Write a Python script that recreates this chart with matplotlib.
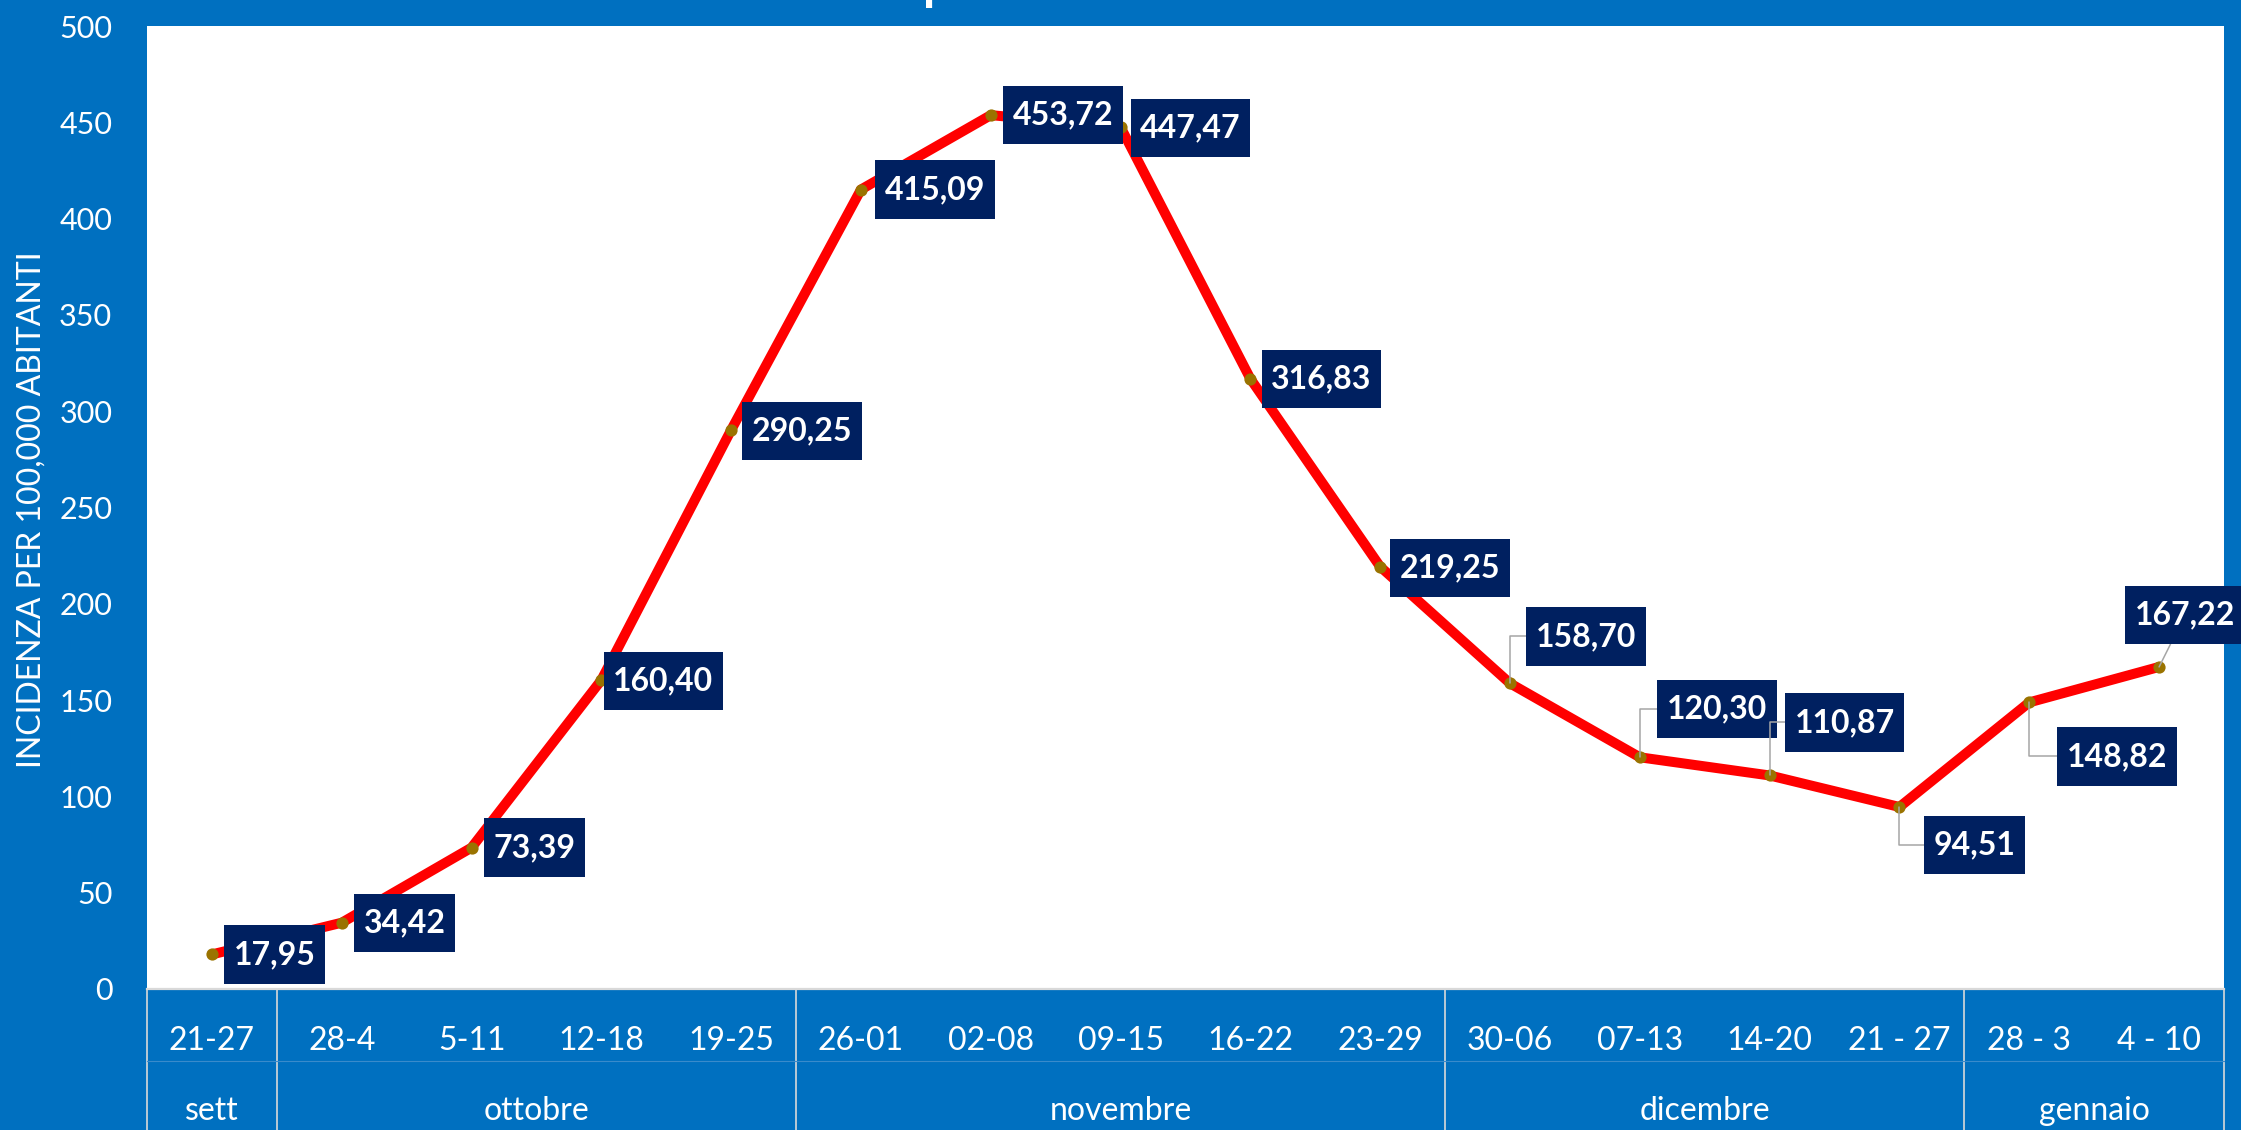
import matplotlib
matplotlib.use("Agg")
import matplotlib.pyplot as plt
import matplotlib.transforms as mtransforms
from matplotlib.path import Path

# ---- data ----
weeks = ["21-27", "28-4", "5-11", "12-18", "19-25", "26-01", "02-08", "09-15",
         "16-22", "23-29", "30-06", "07-13", "14-20", "21 - 27", "28 - 3", "4 - 10"]
values = [17.95, 34.42, 73.39, 160.40, 290.25, 415.09, 453.72, 447.47,
          316.83, 219.25, 158.70, 120.30, 110.87, 94.51, 148.82, 167.22]
months = ["sett", "ottobre", "novembre", "dicembre", "gennaio"]
month_sizes = [1, 4, 5, 4, 2]
y_ticks = [0, 50, 100, 150, 200, 250, 300, 350, 400, 450, 500]
y_label = "INCIDENZA PER 100,000 ABITANTI"

# label offsets (pixels) and whether a leader line is drawn
label_offsets = [(63, 0), (63, 0), (63, 0), (62, -1), (71, -1), (74, 0), (72, 0), (70, -1),
                 (71, 0), (70, -1), (76, 47), (77, 48), (75, 53), (75, -38), (88, -54), (26, 52)]
leader = [False] * 10 + [True] * 6

BLUE = "#0070C0"
NAVY = "#002060"
FONT = ["Lato", "DejaVu Sans"]


def label_box(x0, y0, width, height, mutation_size):
    px = 0.30 * mutation_size
    py = 0.46 * mutation_size
    return Path([(x0 - px, y0 - py), (x0 + width + px, y0 - py),
                 (x0 + width + px, y0 + height + py), (x0 - px, y0 + height + py),
                 (x0 - px, y0 - py)], closed=True)


W, H = 2241, 1130
fig = plt.figure(figsize=(W / 100, H / 100), dpi=100, facecolor=BLUE)
ax = fig.add_axes([147 / W, 1 - 989 / H, (2224 - 147) / W, (989 - 26) / H])
ax.set_facecolor("white")

x = list(range(len(values)))
ax.plot(x, values, color="#FF0000", lw=7.2, solid_joinstyle="round",
        solid_capstyle="round", zorder=2)
ax.plot(x, values, ls="none", marker="o", ms=8.8, mfc="#9A7300", mec="none", zorder=2.5)

ax.set_xlim(-0.5, len(values) - 0.5)
ax.set_ylim(0, 500)

for s in ["top", "right", "left"]:
    ax.spines[s].set_visible(False)
ax.spines["bottom"].set_color("#D9D9D9")
ax.spines["bottom"].set_linewidth(1.6)

ax.set_yticks(y_ticks)
ax.set_yticklabels([str(v) for v in y_ticks], color="white", fontsize=22, family=FONT)
ax.tick_params(axis="y", length=0, pad=25)
ax.set_xticks([])

ax.text(-0.0554, 0.498, y_label, transform=ax.transAxes, rotation=90, ha="center",
        va="center", color="white", fontsize=23, family=FONT)

# category axis below
trans = mtransforms.blended_transform_factory(ax.transData, ax.transAxes)
for i, w in enumerate(weeks):
    ax.text(i, -0.0633, w, transform=trans, ha="center", va="baseline",
            color="white", fontsize=23, family=FONT, clip_on=False)

start = -0.5
bounds = [start]
for m, n in zip(months, month_sizes):
    center = start + n / 2
    ax.text(center, -0.136, m, transform=trans, ha="center", va="baseline",
            color="white", fontsize=23, family=FONT, clip_on=False)
    start += n
    bounds.append(start)
for b in bounds:
    ax.plot([b, b], [0, -0.147], transform=trans, color="#D9D9D9", lw=1.2,
            clip_on=False, zorder=1)
ax.plot([-0.5, len(values) - 0.5], [-0.0748, -0.0748], transform=trans,
        color="#3A8BCB", lw=0.8, clip_on=False, zorder=1)

# data labels
for i, (v, (dx, dy), ld) in enumerate(zip(values, label_offsets, leader)):
    txt = f"{v:.2f}".replace(".", ",")
    kw = {}
    if ld:
        if i == len(values) - 1:
            cs = "arc3"
        else:
            cs = "angle,angleA=0,angleB=90,rad=0"
        kw["arrowprops"] = dict(arrowstyle="-", color="#A6A6A6", lw=1.1,
                                shrinkA=0, shrinkB=0, connectionstyle=cs)
    ax.annotate(txt, xy=(i, v), xytext=(dx, dy), textcoords="offset pixels",
                ha="center", va="center", color="white", fontsize=23,
                fontweight="bold", family=FONT, zorder=4,
                bbox=dict(boxstyle=label_box, fc=NAVY, ec="none"), **kw)

# partially visible title
fig.text(937 / W, 1.0, "p", color="white", fontsize=36, fontweight="bold",
         family=FONT, ha="center", va="baseline")

fig.savefig("out.png", dpi=100, facecolor=BLUE)
